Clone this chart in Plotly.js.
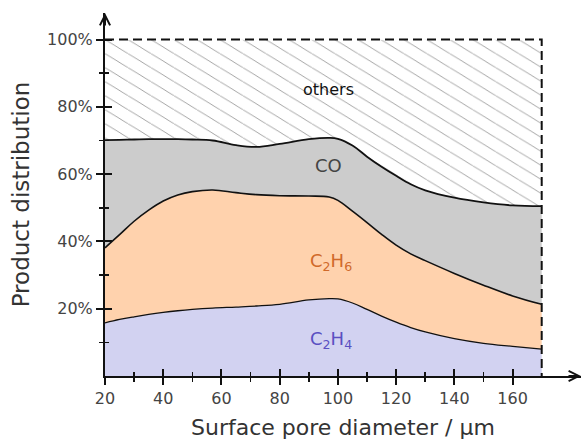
<!DOCTYPE html>
<html>
<head>
<meta charset="utf-8">
<script src="https://cdn.plot.ly/plotly-3.0.1.min.js"></script>
<style>html,body{margin:0;padding:0;background:#fff;}#chart{width:585px;height:443px;}</style>
</head>
<body>
<div id="chart"></div>
<script>
// Surface pore diameter (µm)
var diameter = [20, 25, 30, 35, 40, 45, 50, 57, 65, 72, 80, 90, 97, 100, 105, 110, 115, 120, 125, 130, 140, 150, 160, 170];
// cumulative upper boundaries of each band (%)
var c2h4Top = [15.8, 16.8, 17.6, 18.3, 18.9, 19.4, 19.8, 20.2, 20.5, 20.8, 21.3, 22.6, 23.0, 22.9, 21.7, 19.8, 17.8, 16.0, 14.4, 13.1, 11.1, 9.7, 8.8, 8.0];
var c2h6Top = [38.1, 42.0, 46.0, 49.3, 52.0, 53.8, 54.8, 55.3, 54.5, 53.9, 53.6, 53.5, 53.2, 52.2, 49.0, 45.6, 42.1, 38.9, 36.3, 34.3, 30.5, 27.0, 23.8, 21.3];
var coTop   = [70.1, 70.2, 70.3, 70.4, 70.4, 70.4, 70.3, 70.0, 68.6, 68.1, 69.0, 70.4, 70.8, 70.5, 68.5, 65.2, 62.2, 59.5, 57.0, 55.2, 53.0, 51.6, 50.7, 50.5];
var totalTop = 100;
var xTicks = [20, 40, 60, 80, 100, 120, 140, 160];
var xMinor = [30, 50, 70, 90, 110, 130, 150];
var yTicks = [20, 40, 60, 80, 100];
var yTickText = ['20%', '40%', '60%', '80%', '100%'];
var yMinor = [10, 30, 50, 70, 90];

var xEnd = diameter[diameter.length - 1];
var xStart = diameter[0];

var hatchSvg = '<svg xmlns="http://www.w3.org/2000/svg" width="437" height="336" viewBox="0 0 437 336">' +
  '<defs><pattern id="h" patternUnits="userSpaceOnUse" width="23" height="14">' +
  '<line x1="0" y1="0" x2="23" y2="14" stroke="#9a9a9a" stroke-width="0.9"/>' +
  '<line x1="-23" y1="-14" x2="0" y2="0" stroke="#9a9a9a" stroke-width="0.9"/>' +
  '<line x1="23" y1="14" x2="46" y2="28" stroke="#9a9a9a" stroke-width="0.9"/>' +
  '</pattern></defs><rect width="437" height="336" fill="url(#h)"/></svg>';
var hatchSrc = 'data:image/svg+xml;base64,' + btoa(hatchSvg);

var fontFam = '"DejaVu Sans", sans-serif';

var traces = [
  {x: diameter, y: c2h4Top, type: 'scatter', mode: 'lines', fill: 'tozeroy',
   fillcolor: '#d2d2f1', line: {color: '#111', width: 1.3, shape: 'spline', smoothing: 1.1}, hoverinfo: 'skip', showlegend: false},
  {x: diameter, y: c2h6Top, type: 'scatter', mode: 'lines', fill: 'tonexty',
   fillcolor: '#ffd2ad', line: {color: '#111', width: 1.6, shape: 'spline', smoothing: 1.1}, hoverinfo: 'skip', showlegend: false},
  {x: diameter, y: coTop, type: 'scatter', mode: 'lines', fill: 'tonexty',
   fillcolor: '#cccccc', line: {color: '#111', width: 1.8, shape: 'spline', smoothing: 1.1}, hoverinfo: 'skip', showlegend: false},
  {x: [xStart, xEnd, xEnd], y: [totalTop, totalTop, 0], type: 'scatter', mode: 'lines',
   xaxis: 'x2', yaxis: 'y2',
   line: {color: '#111', width: 2, dash: '9px,5px'}, hoverinfo: 'skip', showlegend: false}
];

var xr = [20, 183.5], yr = [0, 107.9];
var common = {showgrid: false, zeroline: false, showline: true, linecolor: '#111', linewidth: 2,
  tickcolor: '#111', tickwidth: 2, ticklen: 7};

var layout = {
  width: 585, height: 443,
  margin: {l: 105, r: 4, t: 13, b: 67},
  paper_bgcolor: '#fff', plot_bgcolor: 'rgba(0,0,0,0)',
  font: {family: fontFam, color: '#333'},
  xaxis: Object.assign({}, common, {range: xr, ticks: 'outside', tickmode: 'array', tickvals: xTicks,
    tickfont: {size: 16, color: '#444'},
    minor: {tickmode: 'array', tickvals: xMinor, ticks: 'outside', ticklen: 4, tickwidth: 1.6, tickcolor: '#111'},
    title: {text: 'Surface pore diameter / µm', font: {size: 22, color: '#333'}, standoff: 12}}),
  yaxis: Object.assign({}, common, {range: yr, ticks: 'outside', tickmode: 'array', tickvals: yTicks, ticktext: yTickText,
    tickfont: {size: 16, color: '#444'},
    minor: {tickmode: 'array', tickvals: yMinor, ticks: 'outside', ticklen: 4, tickwidth: 1.6, tickcolor: '#111'},
    title: {text: 'Product distribution', font: {size: 23, color: '#333'}, standoff: 11}}),
  xaxis2: Object.assign({}, common, {range: xr, overlaying: 'x', anchor: 'y2', side: 'bottom', ticks: 'inside',
    tickmode: 'array', tickvals: xTicks, showticklabels: false,
    minor: {tickmode: 'array', tickvals: xMinor, ticks: 'inside', ticklen: 4, tickwidth: 1.6, tickcolor: '#111'}}),
  yaxis2: Object.assign({}, common, {range: yr, overlaying: 'y', anchor: 'x2', side: 'left', ticks: 'inside',
    tickmode: 'array', tickvals: yTicks, showticklabels: false,
    minor: {tickmode: 'array', tickvals: yMinor, ticks: 'inside', ticklen: 4, tickwidth: 1.6, tickcolor: '#111'}}),
  images: [{source: hatchSrc, xref: 'x', yref: 'y', x: xStart, y: totalTop, sizex: xEnd - xStart, sizey: totalTop,
    sizing: 'stretch', xanchor: 'left', yanchor: 'top', layer: 'below'}],
  annotations: [
    {x: 96.6, y: 85.3, xref: 'x', yref: 'y', text: 'others', showarrow: false, font: {size: 16, color: '#111', family: fontFam}},
    {x: 96.6, y: 62.5, xref: 'x', yref: 'y', text: 'CO', showarrow: false, font: {size: 18, color: '#444', family: fontFam}},
    {x: 97.5, y: 33.8, xref: 'x', yref: 'y', text: 'C<sub>2</sub>H<sub>6</sub>', showarrow: false, font: {size: 18, color: '#d0692a', family: fontFam}},
    {x: 97.5, y: 10.8, xref: 'x', yref: 'y', text: 'C<sub>2</sub>H<sub>4</sub>', showarrow: false, font: {size: 18, color: '#5a4fc2', family: fontFam}},
    {x: 183.5, y: 0, xref: 'x', yref: 'y', ax: -14, ay: 0, text: '', showarrow: true, arrowhead: 5, arrowsize: 1, arrowwidth: 2, arrowcolor: '#111', standoff: 0},
    {x: 20, y: 107.9, xref: 'x', yref: 'y', ax: 0, ay: 14, text: '', showarrow: true, arrowhead: 5, arrowsize: 1, arrowwidth: 2, arrowcolor: '#111', standoff: 0}
  ]
};

Plotly.newPlot('chart', traces, layout, {displayModeBar: false, staticPlot: true});
</script>
</body>
</html>
